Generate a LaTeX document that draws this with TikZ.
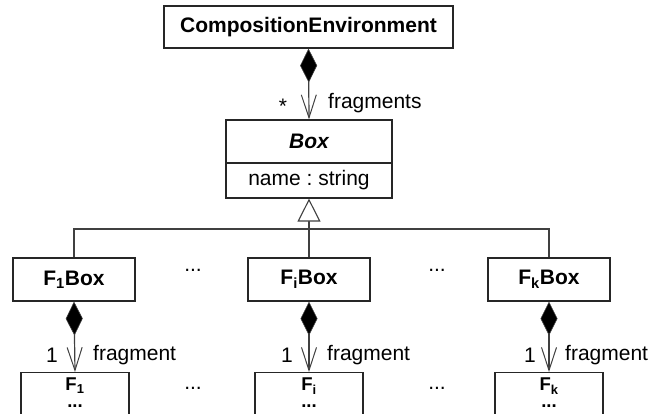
\documentclass[tikz,border=0pt]{standalone}
\usepackage{fontspec}
\setmainfont{Liberation Sans}
\usetikzlibrary{arrows.meta}
\tikzset{
  umlbox/.style={draw=black!85, line width=1.2pt, fill=white, inner sep=0pt},
  txt/.style={font=\fontsize{21}{25}\selectfont, inner sep=0pt, text=black},
  btxt/.style={font=\fontsize{21}{25}\selectfont\bfseries, inner sep=0pt, text=black},
  stxt/.style={font=\fontsize{18.5}{17}\selectfont\bfseries, inner sep=0pt, text=black, align=center},
  conn/.style={draw=black!75, line width=1.2pt},
  comp/.style={conn, {Diamond[length=34pt,width=17pt,fill=black,line width=0.6pt]}-{Straight Barb[length=23pt,width=15pt,line width=1pt]}},
  gen/.style={conn, -{Triangle[open,length=23pt,width=23pt,fill=white,line width=1.1pt]}},
}
\begin{document}
\begin{tikzpicture}[x=1pt,y=-1pt]
\useasboundingbox (0,0) rectangle (648,414);
\clip (0,0) rectangle (648,414);
% top class
\node[umlbox, minimum width=289pt, minimum height=42pt] (ce) at (308.5,27) {};
\node[btxt] (cet) at (ce.center) {CompositionEnvironment};
% Box class
\node[umlbox, minimum width=166pt, minimum height=78pt] (box) at (309,159) {};
\coordinate (divl) at (226,163);
\coordinate (divr) at (392,163);
\draw[draw=black!85, line width=1.2pt] (divl) -- (divr);
\node[btxt] (boxt) at (309,141.5) {\itshape Box};
\node[txt] (boxa) at (309,180.5) {\frenchspacing name : string};
% composition top
\draw[comp] (ce.south) -- (box.north);
\node[txt] (star) at (283,106) {*};
\node[txt, anchor=west] (frags) at (328,103) {fragments};
% subclasses
\node[umlbox, minimum width=122pt, minimum height=43pt] (f1box) at (74,279.5) {};
\node[btxt] at (f1box.center) {F\textsubscript{1}Box};
\node[umlbox, minimum width=122pt, minimum height=43pt] (fibox) at (309,279.5) {};
\node[btxt] at (fibox.center) {F\textsubscript{i}Box};
\node[umlbox, minimum width=122pt, minimum height=43pt] (fkbox) at (549,279.5) {};
\node[btxt] at (fkbox.center) {F\textsubscript{k}Box};
\node[txt, anchor=base] (d1) at (193,271) {...};
\node[txt, anchor=base] (d2) at (437,271) {...};
% generalization
\coordinate (junc) at (309,229);
\draw[conn] (f1box.north) |- (junc) -| (fkbox.north);
\draw[gen] (fibox.north) -- (box.south);
% bottom classes
\node[umlbox, minimum width=108pt, minimum height=60pt, anchor=north] (f1) at (75,372) {};
\node[umlbox, minimum width=108pt, minimum height=60pt, anchor=north] (fi) at (309,372) {};
\node[umlbox, minimum width=108pt, minimum height=60pt, anchor=north] (fk) at (549,372) {};
\node[stxt, anchor=north] at (75,378) {F\textsubscript{1}\\...};
\node[stxt, anchor=north] at (309,378) {F\textsubscript{i}\\...};
\node[stxt, anchor=north] at (549,378) {F\textsubscript{k}\\...};
\node[txt, anchor=base] (d3) at (193,389) {...};
\node[txt, anchor=base] (d4) at (437,389) {...};
% compositions bottom
\draw[comp] (f1box.south) -- (f1.north);
\draw[comp] (fibox.south) -- (fi.north);
\draw[comp] (fkbox.south) -- (fk.north);
\node[txt] at (52,355) {1};
\node[txt, anchor=west] at (93,355) {fragment};
\node[txt] at (287,355) {1};
\node[txt, anchor=west] at (327,355) {fragment};
\node[txt] at (530,355) {1};
\node[txt, anchor=west] at (565,355) {fragment};
\end{tikzpicture}
\end{document}
